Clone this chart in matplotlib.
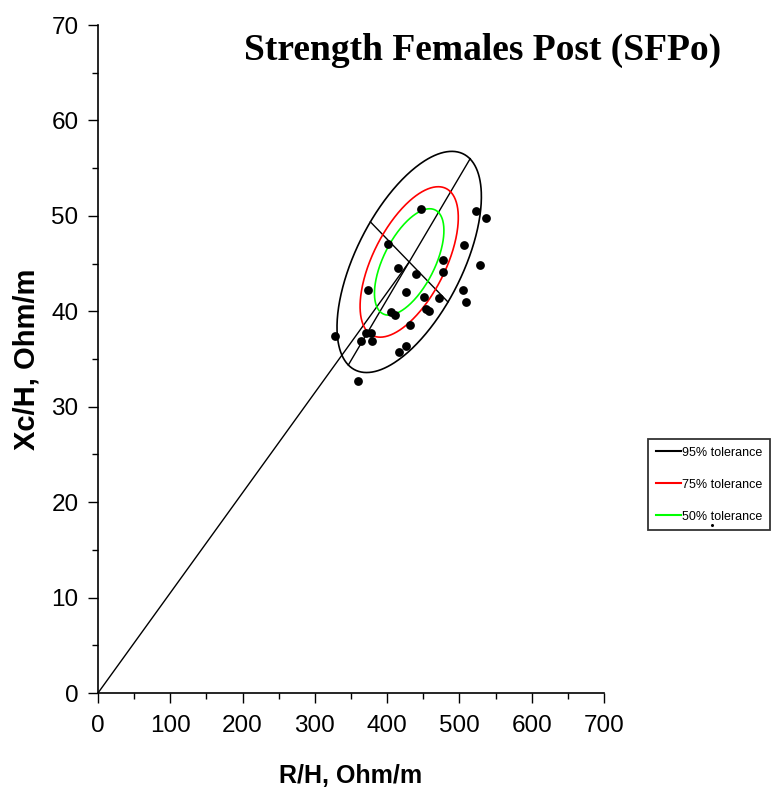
import numpy as np
import matplotlib
matplotlib.use("Agg")
import matplotlib.pyplot as plt
from matplotlib.ticker import MultipleLocator
from matplotlib.lines import Line2D
from matplotlib import font_manager as fm

# ---------------- data ----------------
rh = [446.8, 522.5, 537.2, 401.6, 506.8, 476.7, 415.0, 476.7, 439.5, 528.0,
      373.5, 426.0, 505.0, 508.6, 450.4, 471.2, 454.2, 457.3, 404.8, 410.9,
      431.6, 327.9, 370.3, 377.7, 363.8, 379.0, 426.5, 416.8, 360.2]
xch = [50.7, 50.5, 49.8, 47.1, 46.9, 45.4, 44.5, 44.1, 43.9, 44.8,
       42.2, 42.0, 42.2, 41.0, 41.5, 41.4, 40.2, 40.0, 39.9, 39.6,
       38.6, 37.4, 37.7, 37.7, 36.9, 36.9, 36.4, 35.7, 32.7]

# tolerance ellipse (95%) centre and conjugate semi-axes in data units
mean_rh, mean_xch = 430.5, 45.17
semi_major_95 = (84.2, 10.8)
semi_minor_95 = (53.7, -4.2)
tolerances = [95, 75, 50]
tol_colors = ["black", "#ff0000", "#00ff00"]
tol_labels = ["95% tolerance", "75% tolerance", "50% tolerance"]

x_ticks = [0, 100, 200, 300, 400, 500, 600, 700]
y_ticks = [0, 10, 20, 30, 40, 50, 60, 70]
title = "Strength Females Post (SFPo)"
xlabel = "R/H, Ohm/m"
ylabel = "Xc/H, Ohm/m"

# ---------------- fonts ----------------
names = {f.name for f in fm.fontManager.ttflist}
narrow = "Liberation Sans Narrow" in names
tick_family = "Liberation Sans Narrow" if narrow else "Liberation Sans"
tick_size = 19 if narrow else 17.5
leg_size = 10 if narrow else 9

plt.rcParams["font.family"] = ["Liberation Sans", "DejaVu Sans"]

fig = plt.figure(figsize=(7.72, 7.91), dpi=100)
ax = fig.add_axes([98 / 772, 1 - 693 / 791, (604 - 98) / 772, (693 - 25) / 791])

# ellipses
t = np.linspace(0, 2 * np.pi, 400)
k95 = np.sqrt(-2 * np.log(1 - 0.95))
for p, c in zip(tolerances, tol_colors):
    s = np.sqrt(-2 * np.log(1 - p / 100.0)) / k95
    ex = mean_rh + s * (np.cos(t) * semi_major_95[0] + np.sin(t) * semi_minor_95[0])
    ey = mean_xch + s * (np.cos(t) * semi_major_95[1] + np.sin(t) * semi_minor_95[1])
    ax.plot(ex, ey, color=c, lw=1.2, zorder=3)

# axes of the 95% ellipse and line from the origin
ax.plot([mean_rh - semi_major_95[0], mean_rh + semi_major_95[0]],
        [mean_xch - semi_major_95[1], mean_xch + semi_major_95[1]], color="black", lw=1.0)
ax.plot([mean_rh - semi_minor_95[0], mean_rh + semi_minor_95[0]],
        [mean_xch - semi_minor_95[1], mean_xch + semi_minor_95[1]], color="black", lw=1.0)
ax.plot([0, mean_rh], [0, mean_xch], color="black", lw=1.0)

# points
ax.scatter(rh, xch, s=40, color="black", zorder=5, linewidths=0)

ax.set_xlim(0, 700)
ax.set_ylim(0, 70)
ax.set_xticks(x_ticks)
ax.set_yticks(y_ticks)
ax.xaxis.set_minor_locator(MultipleLocator(50))
ax.yaxis.set_minor_locator(MultipleLocator(5))
ax.tick_params(which="major", direction="out", length=7, width=1.0)
ax.tick_params(which="minor", direction="out", length=4, width=1.0)
ax.tick_params(axis="x", which="major", pad=9)
ax.tick_params(axis="y", which="major", pad=7)
for lab in ax.get_xticklabels() + ax.get_yticklabels():
    lab.set_family(tick_family)
    lab.set_fontsize(tick_size)
for side in ["top", "right"]:
    ax.spines[side].set_visible(False)
for side in ["left", "bottom"]:
    ax.spines[side].set_linewidth(1.2)

ax.set_xlabel(xlabel, fontsize=18, fontweight="bold", labelpad=19)
ax.set_ylabel(ylabel, fontsize=21, fontweight="bold", labelpad=8)

fig.text(483 / 772, 1 - 60 / 791, title, ha="center", va="baseline",
         family=["Liberation Serif", "DejaVu Serif"], fontweight="bold", fontsize=27)

handles = [Line2D([], [], color=c, lw=1.5) for c in tol_colors]
leg = fig.legend(handles, tol_labels, loc="upper left",
                 bbox_to_anchor=(648 / 772, 1 - 439 / 791),
                 prop={"family": tick_family, "size": leg_size},
                 frameon=True, fancybox=False, borderpad=0.6, labelspacing=1.6,
                 handlelength=2.0, handletextpad=0.1, borderaxespad=0)
leg.get_frame().set_edgecolor("black")
leg.get_frame().set_linewidth(1.3)
# stray tiny dot inside the legend box (as in the reference)
fig.add_artist(Line2D([712 / 772], [1 - 525 / 791], marker="o", ms=1.2,
                      color="black", linestyle="none",
                      transform=fig.transFigure, zorder=10))

fig.savefig("out.png", dpi=100)
